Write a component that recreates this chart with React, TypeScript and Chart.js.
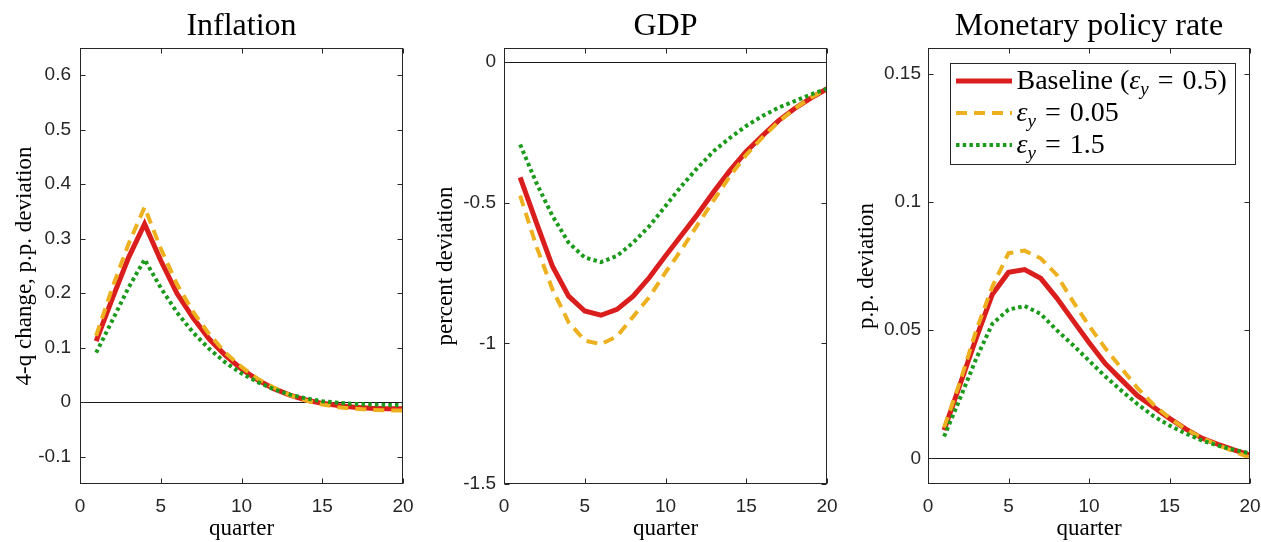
import React, { useEffect, useRef } from "react";
import { Chart, registerables } from "chart.js";

Chart.register(...registerables);

// ---------- data ----------
const quarters = [1, 2, 3, 4, 5, 6, 7, 8, 9, 10, 11, 12, 13, 14, 15, 16, 17, 18, 19, 20];

const inflationBaseline = [0.112, 0.19, 0.265, 0.327, 0.26, 0.2, 0.155, 0.116, 0.086, 0.061, 0.041, 0.025, 0.013, 0.004, -0.002, -0.006, -0.009, -0.011, -0.012, -0.012];
const inflationLow = [0.122, 0.21, 0.29, 0.358, 0.282, 0.217, 0.166, 0.125, 0.091, 0.065, 0.043, 0.027, 0.013, 0.003, -0.004, -0.009, -0.012, -0.014, -0.015, -0.015];
const inflationHigh = [0.091, 0.15, 0.21, 0.262, 0.21, 0.165, 0.128, 0.098, 0.073, 0.053, 0.037, 0.024, 0.014, 0.007, 0.002, -0.001, -0.003, -0.004, -0.005, -0.005];

const gdpBaseline = [-0.41, -0.57, -0.726, -0.832, -0.885, -0.9, -0.879, -0.832, -0.766, -0.689, -0.615, -0.54, -0.46, -0.385, -0.318, -0.262, -0.208, -0.165, -0.128, -0.095];
const gdpLow = [-0.475, -0.654, -0.808, -0.925, -0.99, -1.003, -0.975, -0.905, -0.835, -0.748, -0.666, -0.577, -0.49, -0.405, -0.33, -0.268, -0.212, -0.165, -0.127, -0.095];
const gdpHigh = [-0.293, -0.429, -0.547, -0.642, -0.695, -0.711, -0.689, -0.642, -0.583, -0.512, -0.44, -0.375, -0.316, -0.269, -0.227, -0.192, -0.162, -0.139, -0.115, -0.095];

const rateBaseline = [0.011, 0.029, 0.047, 0.064, 0.0725, 0.0736, 0.0702, 0.0625, 0.0538, 0.0452, 0.037, 0.0307, 0.0245, 0.02, 0.0156, 0.0115, 0.0079, 0.0055, 0.0033, 0.0013];
const rateLow = [0.012, 0.03, 0.05, 0.067, 0.08, 0.081, 0.078, 0.0715, 0.0612, 0.0517, 0.043, 0.0352, 0.0275, 0.021, 0.0157, 0.0114, 0.008, 0.0052, 0.0027, 0.0003];
const rateHigh = [0.0085, 0.0235, 0.039, 0.0525, 0.058, 0.0594, 0.0563, 0.05, 0.0442, 0.0381, 0.032, 0.0265, 0.0212, 0.0165, 0.0128, 0.0097, 0.007, 0.005, 0.0033, 0.002];

const xTicks = [0, 5, 10, 15, 20];
const inflationTicks = [-0.1, 0, 0.1, 0.2, 0.3, 0.4, 0.5, 0.6];
const gdpTicks = [-1.5, -1, -0.5, 0];
const rateTicks = [0, 0.05, 0.1, 0.15];

const titles = ["Inflation", "GDP", "Monetary policy rate"];
const yLabels = ["4-q change, p.p. deviation", "percent deviation", "p.p. deviation"];
const xLabel = "quarter";
const legendLabels = ["Baseline (ε_y = 0.5)", "ε_y = 0.05", "ε_y = 1.5"];

// ---------- styles ----------
const RED = "#da1e1e";
const YELLOW = "#edb120";
const GREEN = "#1b9a1b";
const AXIS = "#262626";
const SERIF = "'Liberation Serif', 'Times New Roman', serif";
const SANS = "'Liberation Sans', Arial, sans-serif";

const seriesStyles = [
  { color: RED, width: 5, dash: [] as number[], order: 3 },
  { color: YELLOW, width: 4, dash: [11, 7], order: 2 },
  { color: GREEN, width: 4, dash: [3.5, 3.2], order: 1 },
];

const panels = [
  { left: 0, width: 420, yWidth: 80, rightPad: 17, yMin: -0.15, yMax: 0.65, ticks: inflationTicks, labelPad: 9, titlePad: 13, series: [inflationBaseline, inflationLow, inflationHigh], legend: false },
  { left: 420, width: 420, yWidth: 84, rightPad: 13, yMin: -1.5, yMax: 0.05, ticks: gdpTicks, labelPad: 8, titlePad: 14.5, series: [gdpBaseline, gdpLow, gdpHigh], legend: false },
  { left: 840, width: 421, yWidth: 88, rightPad: 11, yMin: -0.01, yMax: 0.16, ticks: rateTicks, labelPad: 7, titlePad: 15, series: [rateBaseline, rateLow, rateHigh], legend: true },
];

const fmt = (v: number) => String(Number(v.toFixed(4)));

// ---------- plugins ----------
const boxPlugin = {
  id: "matlabBox",
  beforeDatasetsDraw(chart: any) {
    const { ctx, chartArea: a, scales } = chart;
    const y0 = scales.y.getPixelForValue(0);
    ctx.save();
    ctx.strokeStyle = "#1a1a1a";
    ctx.lineWidth = 1;
    ctx.beginPath();
    ctx.moveTo(a.left, Math.round(y0) + 0.5);
    ctx.lineTo(a.right, Math.round(y0) + 0.5);
    ctx.stroke();
    ctx.restore();
  },
  afterDatasetsDraw(chart: any) {
    const { ctx, chartArea: a, scales } = chart;
    ctx.save();
    ctx.strokeStyle = AXIS;
    ctx.lineWidth = 1;
    const L = Math.round(a.left) + 0.5;
    const R = Math.round(a.right) - 0.5;
    const T = Math.round(a.top) + 0.5;
    const B = Math.round(a.bottom) - 0.5;
    ctx.strokeRect(L, T, R - L, B - T);
    const tl = 5;
    ctx.beginPath();
    scales.x.ticks.forEach((t: any) => {
      const px = Math.round(scales.x.getPixelForValue(t.value)) + 0.5;
      ctx.moveTo(px, B);
      ctx.lineTo(px, B - tl);
      ctx.moveTo(px, T);
      ctx.lineTo(px, T + tl);
    });
    scales.y.ticks.forEach((t: any) => {
      const py = Math.round(scales.y.getPixelForValue(t.value)) + 0.5;
      ctx.moveTo(L, py);
      ctx.lineTo(L + tl, py);
      ctx.moveTo(R, py);
      ctx.lineTo(R - tl, py);
    });
    ctx.stroke();
    ctx.restore();
  },
};

const legendPlugin = {
  id: "mathLegend",
  afterDraw(chart: any) {
    if (!chart.options.plugins.mathLegend?.show) return;
    const { ctx, chartArea: a } = chart;
    const size = 28;
    const sub = 19;
    const normal = `${size}px ${SERIF}`;
    const italic = `italic ${size}px ${SERIF}`;
    const subFont = `italic ${sub}px ${SERIF}`;
    type Seg = { t: string; f: string; dy: number; gap: number };
    const parts = legendLabels.map((lab) => {
      const segs: Seg[] = [];
      const pieces = lab.split("ε_y");
      pieces.forEach((p, i) => {
        if (p) {
          const eq = p.split(" = ");
          eq.forEach((q, j) => {
            if (q) segs.push({ t: q, f: normal, dy: 0, gap: 0 });
            if (j < eq.length - 1) segs.push({ t: "=", f: normal, dy: 0, gap: 9 });
          });
        }
        if (i < pieces.length - 1) {
          segs.push({ t: "ε", f: italic, dy: 0, gap: 0 });
          segs.push({ t: "y", f: subFont, dy: 6, gap: 0 });
        }
      });
      return segs;
    });
    ctx.save();
    const segW = (s: Seg) => {
      ctx.font = s.f;
      return ctx.measureText(s.t).width + 2 * s.gap;
    };
    const widths = parts.map((segs) => segs.reduce((w, s) => w + segW(s), 0));
    const maxW = Math.max(...widths);
    const textX = 66;
    const boxW = textX + maxW + 9;
    const boxH = 101;
    const right = Math.round(a.right - 15) + 0.5;
    const top = Math.round(a.top + 15) + 0.5;
    const left = right - Math.round(boxW);
    ctx.fillStyle = "#ffffff";
    ctx.fillRect(left, top, right - left, boxH);
    ctx.strokeStyle = AXIS;
    ctx.lineWidth = 1;
    ctx.strokeRect(left, top, right - left, boxH);
    const rowH = 32;
    const datasets = chart.data.datasets;
    parts.forEach((segs, i) => {
      const cy = top + 17.5 + i * rowH;
      const ds = datasets[i];
      ctx.strokeStyle = ds.borderColor;
      ctx.lineWidth = ds.borderWidth;
      ctx.setLineDash(ds.borderDash || []);
      ctx.beginPath();
      ctx.moveTo(left + 5.5, cy);
      ctx.lineTo(left + 61.5, cy);
      ctx.stroke();
      ctx.setLineDash([]);
      let x = left + textX;
      ctx.fillStyle = "#000";
      ctx.textBaseline = "alphabetic";
      ctx.textAlign = "left";
      segs.forEach((s) => {
        ctx.font = s.f;
        ctx.fillText(s.t, x + s.gap, cy + 8 + s.dy);
        x += ctx.measureText(s.t).width + 2 * s.gap;
      });
    });
    ctx.restore();
  },
};

// ---------- components ----------
function Panel({ idx }: { idx: number }) {
  const ref = useRef<HTMLCanvasElement | null>(null);
  const p = panels[idx];
  useEffect(() => {
    if (!ref.current) return;
    const datasets = p.series.map((vals, i) => ({
      label: legendLabels[i],
      data: quarters.map((q, k) => ({ x: q, y: vals[k] })),
      borderColor: seriesStyles[i].color,
      borderWidth: seriesStyles[i].width,
      borderDash: seriesStyles[i].dash,
      borderCapStyle: "butt",
      pointRadius: 0,
      tension: 0,
      fill: false,
      order: seriesStyles[i].order,
    }));
    const chart = new Chart(ref.current, {
      type: "line",
      data: { datasets } as any,
      options: {
        animation: false,
        responsive: false,
        events: [],
        layout: { padding: { left: 0, right: p.rightPad, top: 0, bottom: 0 } },
        plugins: {
          legend: { display: false },
          tooltip: { enabled: false },
          title: {
            display: true,
            text: titles[idx],
            fullSize: false,
            color: "#000",
            font: { family: SERIF, size: 32, weight: "normal", lineHeight: 1.2 },
            padding: { top: 7, bottom: 2.6 },
          },
          mathLegend: { show: p.legend },
        } as any,
        scales: {
          x: {
            type: "linear",
            min: 0,
            max: 20,
            grid: { display: false, drawTicks: false },
            border: { display: false },
            ticks: {
              autoSkip: false,
              maxRotation: 0,
              padding: 11,
              color: AXIS,
              font: { family: SANS, size: 19 },
              callback: (v: any) => fmt(Number(v)),
            },
            afterBuildTicks: (s: any) => {
              s.ticks = xTicks.map((v) => ({ value: v }));
            },
            afterFit: (s: any) => {
              s.height = 58;
              s.paddingLeft = 0;
              s.paddingRight = 0;
            },
            title: {
              display: true,
              text: xLabel,
              color: "#000",
              font: { family: SERIF, size: 23, lineHeight: 1 },
              padding: { top: 0, bottom: 1.5 },
            },
          },
          y: {
            type: "linear",
            min: p.yMin,
            max: p.yMax,
            grid: { display: false, drawTicks: false },
            border: { display: false },
            ticks: {
              autoSkip: false,
              padding: p.labelPad,
              color: AXIS,
              font: { family: SANS, size: 19 },
              callback: (v: any) => fmt(Number(v)),
            },
            afterBuildTicks: (s: any) => {
              s.ticks = p.ticks.map((v) => ({ value: v }));
            },
            afterFit: (s: any) => {
              s.width = p.yWidth;
              s.paddingTop = 0;
              s.paddingBottom = 0;
            },
            title: {
              display: true,
              text: yLabels[idx],
              color: "#000",
              font: { family: SERIF, size: 23, lineHeight: 1 },
              padding: { top: p.titlePad, bottom: 0 },
            },
          },
        },
      } as any,
      plugins: [boxPlugin, legendPlugin] as any,
    });
    return () => chart.destroy();
  }, [idx]);
  return (
    <canvas
      ref={ref}
      width={p.width}
      height={542}
      style={{ position: "absolute", left: p.left, top: 0, width: p.width, height: 542 }}
    />
  );
}

export default function App() {
  return (
    <div style={{ position: "absolute", left: 0, top: 0, width: 1261, height: 542, background: "#fff", overflow: "hidden" }}>
      {panels.map((_, i) => (
        <Panel key={i} idx={i} />
      ))}
    </div>
  );
}
